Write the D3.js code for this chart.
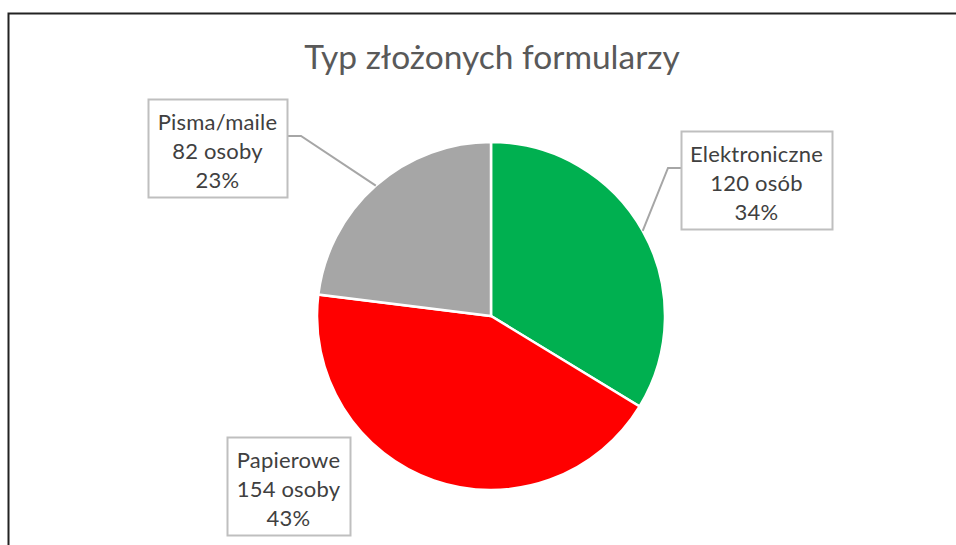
<!DOCTYPE html>
<html>
<head>
<meta charset="utf-8">
<script src="https://cdn.jsdelivr.net/npm/d3@7"></script>
<style>
  body { margin: 0; background: #fff; }
  svg { display: block; font-family: Lato, "Open Sans", sans-serif; }
</style>
</head>
<body>
<script>
// Data
var categories = ["Elektroniczne", "Papierowe", "Pisma/maile"];
var counts = [120, 154, 82];
var units = ["osób", "osoby", "osoby"];
var colors = ["#00b050", "#ff0000", "#a6a6a6"];

var w = 956;
var h = 545;

var svg = d3.select("body")
  .append("svg")
  .attr("width", w)
  .attr("height", h);

// frame of the chart area
svg.append("path")
  .attr("d", "M8.5," + h + "V13.5H" + w)
  .attr("fill", "none")
  .attr("stroke", "#222")
  .attr("stroke-width", 2);

svg.append("text")
  .attr("x", 492)
  .attr("y", 69)
  .attr("text-anchor", "middle")
  .attr("fill", "#595959")
  .attr("font-size", 33.5)
  .text("Typ złożonych formularzy");

/*
----Pie----
*/
var cx = 491, cy = 316, r = 174;
var total = d3.sum(counts);

var pie = d3.pie().sort(null)(counts);
var arc = d3.arc().innerRadius(0).outerRadius(r);

var g = svg.append("g").attr("transform", "translate(" + cx + "," + cy + ")");

g.selectAll("path")
  .data(pie)
  .enter()
  .append("path")
  .attr("d", arc)
  .attr("fill", function(d, i) { return colors[i]; })
  .attr("stroke", "#fff")
  .attr("stroke-width", 2.5);

/*
----Labels----
*/
// box positions (left, top, width, height) and leader elbows
var boxes = [
  {x: 681, y: 131, bw: 151, bh: 98, lead: [[681, 168], [668, 168]]},
  {x: 227, y: 437, bw: 123, bh: 98, lead: null},
  {x: 148, y: 99, bw: 139, bh: 98, lead: [[287, 136], [301, 136]]}
];

pie.forEach(function(d, i) {
  var b = boxes[i];
  if (b.lead) {
    var a = (d.startAngle + d.endAngle) / 2;
    var ex = cx + Math.sin(a) * r;
    var ey = cy - Math.cos(a) * r;
    svg.append("polyline")
      .attr("points", b.lead.concat([[ex, ey]]).map(function(p) { return p.join(","); }).join(" "))
      .attr("fill", "none")
      .attr("stroke", "#a6a6a6")
      .attr("stroke-width", 2);
  }
  svg.append("rect")
    .attr("x", b.x + 0.5)
    .attr("y", b.y + 0.5)
    .attr("width", b.bw)
    .attr("height", b.bh)
    .attr("fill", "#fff")
    .attr("stroke", "#bfbfbf")
    .attr("stroke-width", 2);

  var lines = [
    categories[i],
    counts[i] + " " + units[i],
    d3.format(".0%")(counts[i] / total)
  ];
  var t = svg.append("text")
    .attr("text-anchor", "middle")
    .attr("fill", "#404040")
    .attr("font-size", 22)
    .attr("letter-spacing", 0.2);
  lines.forEach(function(s, k) {
    t.append("tspan")
      .attr("x", b.x + b.bw / 2)
      .attr("y", b.y + 31 + k * 29)
      .text(s);
  });
});
</script>
</body>
</html>
